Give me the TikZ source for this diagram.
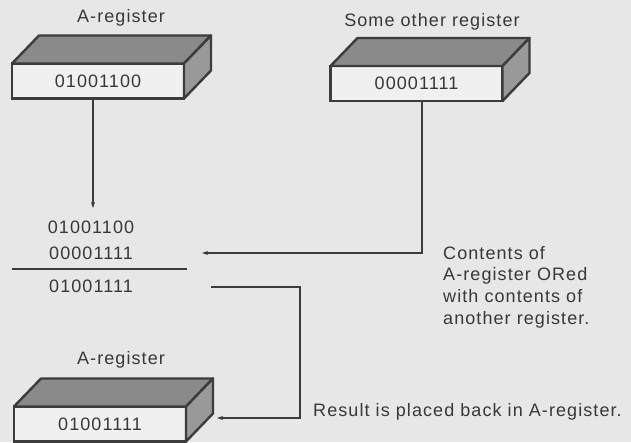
\documentclass[tikz,border=0pt]{standalone}
\usepackage{fontspec}
\setmainfont{Liberation Sans}[LetterSpace=6]
\usetikzlibrary{calc,arrows.meta}

\definecolor{paper}{HTML}{E7E7E7}
\definecolor{ink}{HTML}{383838}
\definecolor{edge}{HTML}{3C3C3C}
\definecolor{frontcol}{HTML}{F0F0F0}
\definecolor{topcol}{HTML}{8A8A8A}
\definecolor{sidecol}{HTML}{999999}

\tikzset{
  regfront/.style={draw=edge, line width=2.4pt, fill=frontcol, minimum width=172pt,
    minimum height=35pt, inner sep=0pt, outer sep=0pt},
  topface/.style={draw=edge, line width=2.4pt, fill=topcol, line join=round},
  sideface/.style={draw=edge, line width=2.4pt, fill=sidecol, line join=round},
  conn/.style={draw=edge, line width=1.6pt},
  arrowed/.style={-{Stealth[length=6pt,width=4pt]}},
  lbl/.style={text=ink, inner sep=0pt},
}

% a register drawn as a flat box: front face with its value, top and right faces
\newcommand\regbox[4]{%
  \node[regfront, text=ink] (#1) at (#2,#3) {#4};
  \filldraw[topface] (#1.north west) -- ++(27,-28) -- ($(#1.north east)+(27,-28)$)
    -- (#1.north east) -- cycle;
  \filldraw[sideface] (#1.north east) -- ++(27,-28) -- ($(#1.south east)+(27,-28)$)
    -- (#1.south east) -- cycle;
}

\begin{document}
\begin{tikzpicture}[x=1pt, y=-1pt, font=\fontsize{18}{21.7}\selectfont]
  \fill[paper] (0,0) rectangle (631,442);
  \useasboundingbox (0,0) rectangle (631,442);

  % registers
  \node[lbl] (labA) at (121,18) {A-register};
  \regbox{regA}{98}{81}{01001100}
  \node[lbl] (labB) at (432,22) {Some other register};
  \regbox{regB}{416.5}{83.5}{00001111}
  \node[lbl] (labC) at (121,360) {A-register};
  \regbox{regC}{100}{424}{01001111}

  % the OR operation
  \node[lbl] (opA) at (91,227) {01001100};
  \node[lbl] (opB) at (91,253) {00001111};
  \node[lbl] (res) at (91,286) {01001111};
  \coordinate (barL) at (12,269);
  \coordinate (barR) at (187,269);
  \draw[conn] (barL) -- (barR);

  % connectors
  \coordinate (tipA) at (93,208);
  \draw[conn, arrowed] (tipA |- regA.south) -- (tipA);

  \coordinate (bendB) at (422,253);
  \coordinate (tipB) at (202,253);
  \draw[conn, arrowed] (bendB |- regB.south) -- (bendB) -- (tipB);

  \coordinate (resStart) at (211,287);
  \coordinate (bendC1) at (300,287);
  \coordinate (bendC2) at (300,418);
  \coordinate (tipC) at (217,418);
  \draw[conn, arrowed] (resStart) -- (bendC1) -- (bendC2) -- (tipC);

  % notes
  \node[lbl, anchor=north west, align=left] (noteOr) at (443,246)
    {Contents of\\A-register ORed\\with contents of\\another register.};
  \node[lbl, anchor=west] (noteRes) at (313,412) {Result is placed back in A-register.};
\end{tikzpicture}
\end{document}
